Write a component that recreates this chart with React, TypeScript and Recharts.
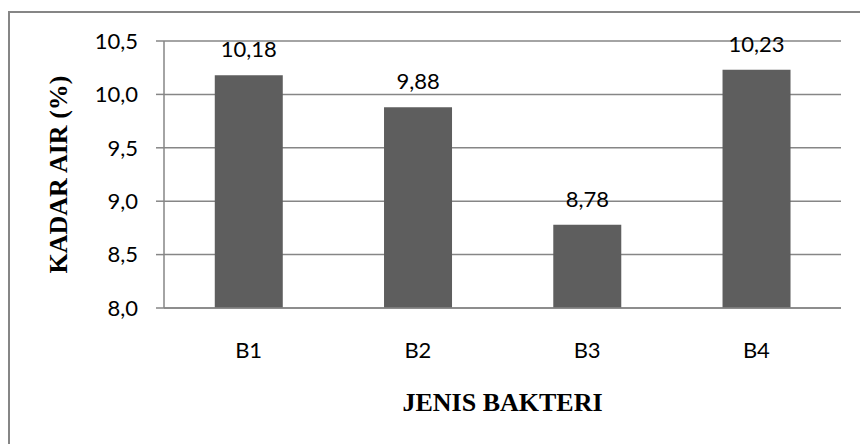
import React from 'react';
import { BarChart, Bar, XAxis, YAxis, CartesianGrid, LabelList } from 'recharts';

const categories = ['B1', 'B2', 'B3', 'B4'];
const kadarAir = [10.18, 9.88, 8.78, 10.23];
const yTicks = [8.0, 8.5, 9.0, 9.5, 10.0, 10.5];

const data = categories.map((name, i) => ({ name, value: kadarAir[i] }));

const gray = '#868686';
const sans = 'Lato, "Noto Sans", sans-serif';
const serif = '"Liberation Serif", "DejaVu Serif", serif';

const comma = (v: number, d: number) => v.toFixed(d).replace('.', ',');

const App = () => {
  return (
    <div style={{ position: 'absolute', left: 0, top: 0, width: 860, height: 444, background: '#fff', overflow: 'hidden' }}>
      <div
        style={{
          position: 'absolute',
          left: 8,
          top: 11,
          width: 900,
          height: 500,
          borderLeft: `2px solid ${gray}`,
          borderTop: `2px solid ${gray}`,
        }}
      />
      <BarChart
        width={860}
        height={444}
        data={data}
        margin={{ top: 41, right: 19, left: 0, bottom: 0 }}
        barCategoryGap="30%"
        style={{ position: 'absolute', left: 0, top: 0 }}
      >
        <CartesianGrid vertical={false} stroke={gray} strokeWidth={1.5} />
        <XAxis
          dataKey="name"
          height={136}
          tickLine={false}
          tickSize={0}
          tickMargin={34}
          axisLine={{ stroke: gray, strokeWidth: 1.5 }}
          tick={{ fill: '#000', fontSize: 22, fontFamily: sans }}
          label={{
            value: 'JENIS BAKTERI',
            position: 'insideBottom',
            offset: 33,
            style: { fontFamily: serif, fontWeight: 'bold', fontSize: 26, fill: '#000' },
          }}
        />
        <YAxis
          width={164}
          domain={[8, 10.5]}
          ticks={yTicks}
          interval={0}
          tickSize={8}
          tickMargin={18}
          tickFormatter={(v: number) => comma(v, 1)}
          axisLine={{ stroke: gray, strokeWidth: 1.5 }}
          tickLine={{ stroke: gray, strokeWidth: 1.5 }}
          tick={{ fill: '#000', fontSize: 22, fontFamily: sans }}
          label={{
            value: 'KADAR AIR (%)',
            angle: -90,
            position: 'insideLeft',
            offset: 58,
            style: { fontFamily: serif, fontWeight: 'bold', fontSize: 26, fill: '#000', textAnchor: 'middle' },
          }}
        />
        <Bar dataKey="value" fill="#5e5e5e" isAnimationActive={false}>
          <LabelList
            dataKey="value"
            position="top"
            offset={18}
            formatter={(v: number) => comma(v, 2)}
            style={{ fill: '#000', fontSize: 22, fontFamily: sans }}
          />
        </Bar>
      </BarChart>
    </div>
  );
};

export default App;
